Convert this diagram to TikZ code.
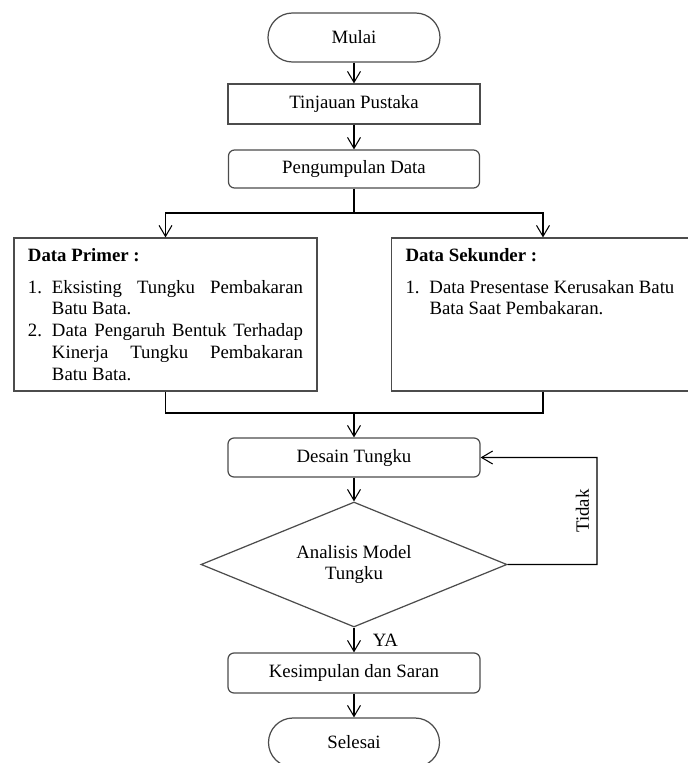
\documentclass[tikz,border=0pt]{standalone}
\usepackage{fontspec}
\setmainfont{Liberation Serif}
\usetikzlibrary{arrows.meta,shapes.geometric}
\newcommand{\itm}[2]{\par\noindent\hangindent=0.48cm\hangafter=1\makebox[0.48cm][l]{#1}#2}
\tikzset{%
  >={Straight Barb[length=2.2mm,width=2.6mm]},
            base/.style = {rectangle, draw=black!70, line width=0.7pt,
                           minimum width=5.04cm, minimum height=0.8cm,
                           text centered, font=\fontsize{10.7}{12.5}\selectfont},
  term/.style = {base, minimum width=3.44cm, minimum height=0.98cm, rounded corners=0.49cm},
  proc/.style = {base},
  soft/.style = {base, rounded corners=0.12cm},
  data/.style = {base, minimum width=6.06cm, minimum height=3.06cm, inner xsep=0.28cm, inner ysep=0.2cm},
  decis/.style = {base, diamond, aspect=2.45, minimum width=6.12cm, minimum height=2.5cm, inner sep=0pt, align=center},
  line/.style = {draw=black, line width=0.6pt},
}

\begin{document}
\begin{tikzpicture}[node distance=1.3cm]
  \useasboundingbox (0,0) rectangle (13.76,-15.26);

  \node (onMulai)     [term] at (7.08,-0.75)                              {Mulai};
  \node (onTinjauan)  [proc, below of=onMulai, yshift=-0.03cm]            {Tinjauan Pustaka};
  \node (onKumpul)    [soft, below of=onTinjauan, minimum width=5.02cm, minimum height=0.76cm] {Pengumpulan Data};
  \node (onPrimer)    [data, below of=onKumpul, yshift=-1.61cm, xshift=-3.77cm] {%
    \parbox[t][2.66cm][t]{5.5cm}{\textbf{Data Primer :}\par\vspace{0.2cm}%
    \itm{1.}{Eksisting Tungku Pembakaran\linebreak Batu Bata.}%
    \itm{2.}{Data Pengaruh Bentuk Terhadap\linebreak Kinerja Tungku Pembakaran\linebreak Batu Bata.}}};
  \node (onSekunder)  [data, below of=onKumpul, yshift=-1.61cm, xshift=3.78cm] {%
    \parbox[t][2.66cm][t]{5.5cm}{\textbf{Data Sekunder :}\par\vspace{0.2cm}%
    \itm{1.}{Data Presentase Kerusakan Batu\newline Bata Saat Pembakaran.}}};
  \node (onDesain)    [soft, below of=onKumpul, yshift=-4.47cm, minimum height=0.78cm] {Desain Tungku};
  \node (onAnalisis)  [decis, below of=onDesain, yshift=-0.84cm]          {Analisis Model\\Tungku};
  \node (onKesimpul)  [soft, below of=onAnalisis, yshift=-0.87cm]         {Kesimpulan dan Saran};
  \node (onSelesai)   [term, below of=onKesimpul, yshift=-0.09cm, minimum width=3.42cm] {Selesai};

  \coordinate (split) at (7.08,-4.26);
  \coordinate (merge) at (7.08,-8.26);
  \coordinate (loop)  at (11.94,-9.15);

  \draw[line, ->] (onMulai) -- (onTinjauan);
  \draw[line, ->] (onTinjauan) -- (onKumpul);
  \draw[line]     (onKumpul) -- (split);
  \draw[line, ->] (split) -| (onPrimer);
  \draw[line, ->] (split) -| (onSekunder);
  \draw[line]     (onPrimer) |- (merge);
  \draw[line]     (onSekunder) |- (merge);
  \draw[line, ->] (merge) -- (onDesain);
  \draw[line, ->] (onDesain) -- (onAnalisis);
  \draw[line, ->] (onAnalisis) -- (onKesimpul)
    node[midway, right, xshift=0.25cm, font=\fontsize{10.7}{12.5}\selectfont] {YA};
  \draw[line, ->] (onAnalisis.east) -| (loop)
    node[pos=0.75, rotate=90, above, inner sep=0.15cm, font=\fontsize{10.7}{12.5}\selectfont] {Tidak}
    -- (onDesain.east);
  \draw[line, ->] (onKesimpul) -- (onSelesai);
\end{tikzpicture}
\end{document}
